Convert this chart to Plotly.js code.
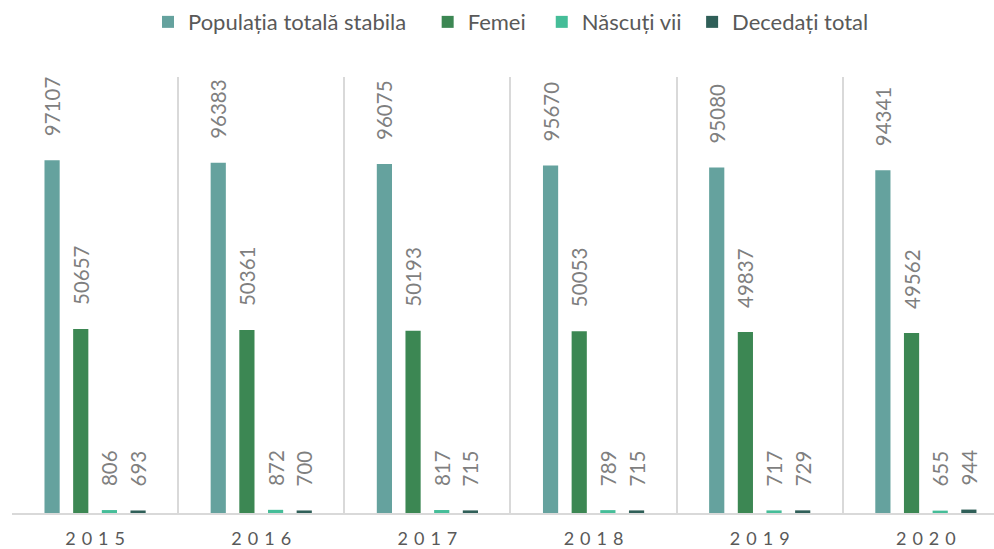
<!DOCTYPE html>
<html>
<head>
<meta charset="utf-8">
<script src="https://cdn.plot.ly/plotly-3.0.1.min.js"></script>
<style>html,body{margin:0;padding:0;background:#fff;overflow:hidden}</style>
</head>
<body>
<div id="chart" style="width:994px;height:549px"></div>
<script>
const years = ["2015", "2016", "2017", "2018", "2019", "2020"];
const yearLabels = ["2\u20040\u20041\u20045", "2\u20040\u20041\u20046", "2\u20040\u20041\u20047", "2\u20040\u20041\u20048", "2\u20040\u20041\u20049", "2\u20040\u20042\u20040"];
const seriesNames = ["Populația totală stabila", "Femei", "Născuți vii", "Decedați total"];
const legendPad = ["\u2003", "\u2002", "\u2005", ""];
const populatie = [97107, 96383, 96075, 95670, 95080, 94341];
const femei = [50657, 50361, 50193, 50053, 49837, 49562];
const nascuti = [806, 872, 817, 789, 717, 655];
const decedati = [693, 700, 715, 715, 729, 944];
const colors = ["#65A29E", "#3C8753", "#45BD98", "#2F5F58"];

const allValues = [populatie, femei, nascuti, decedati];
const FONT = "Lato, 'Open Sans', sans-serif";
const PAD = "\u00a0\u00a0\u00a0\u00a0";
const traces = allValues.map((vals, i) => ({
  type: "bar",
  name: seriesNames[i] + legendPad[i],
  x: years,
  y: vals,
  marker: {color: colors[i]},
  text: vals.map(v => String(v)),
  texttemplate: PAD + "%{text}",
  textposition: "outside",
  textangle: -90,
  constraintext: "none",
  cliponaxis: false,
  textfont: {family: FONT, size: 20.5, color: "#7F7F7F"},
  hoverinfo: "skip"
}));

const layout = {
  width: 994, height: 549,
  margin: {l: 12, r: 0, t: 77, b: 36},
  paper_bgcolor: "#fff", plot_bgcolor: "#fff",
  barmode: "group",
  bargap: 0.31,
  bargroupgap: 0.47,
  showlegend: true,
  legend: {
    orientation: "h", x: 0.1385, xanchor: "left", y: 1.126, yanchor: "middle",
    font: {family: FONT, size: 22, color: "#595959"},
    itemclick: false
  },
  xaxis: {
    type: "category",
    range: [-0.5, 5.41],
    tickmode: "array", tickvals: years, ticktext: yearLabels,
    tickson: "boundaries",
    ticks: "", showgrid: true, gridcolor: "#D9D9D9", gridwidth: 2,
    showline: true, linecolor: "#D9D9D9", linewidth: 2,
    ticklabelstandoff: 8,
    tickfont: {family: FONT, size: 18, color: "#595959"},
    fixedrange: true
  },
  yaxis: {
    range: [0, 120000], showgrid: false, zeroline: false,
    showticklabels: false, showline: false, fixedrange: true
  }
};

Plotly.newPlot("chart", traces, layout, {displayModeBar: false, staticPlot: true});
</script>
</body>
</html>
